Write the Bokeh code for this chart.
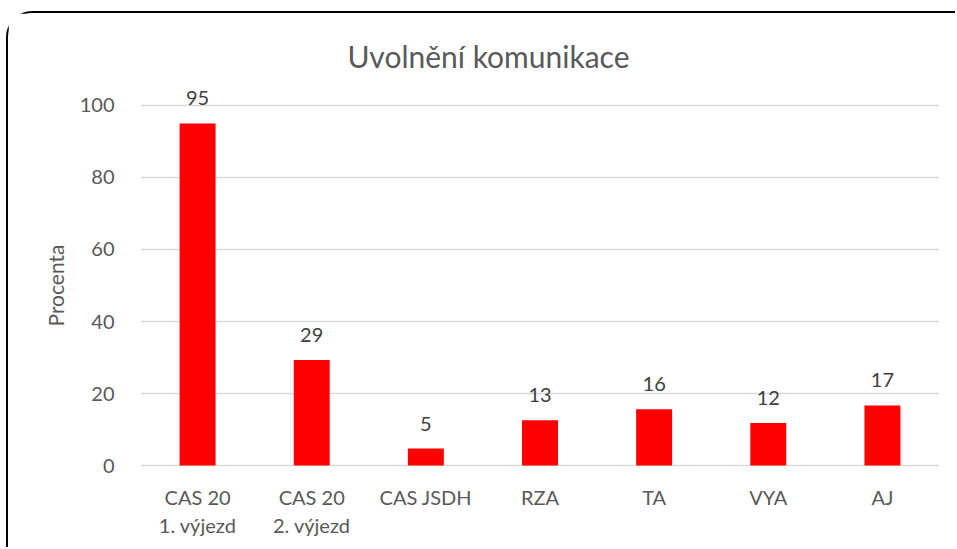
from bokeh.plotting import figure
from bokeh.models import Range1d, FactorRange, FixedTicker, ColumnDataSource
from bokeh.core.properties import value
from bokeh.embed import file_html
from bokeh.resources import INLINE

# ---- data ----
categories = ["CAS 20\n1. výjezd", "CAS 20\n2. výjezd", "CAS JSDH", "RZA", "TA", "VYA", "AJ"]
values = [95.0, 29.3, 4.7, 12.6, 15.6, 11.8, 16.7]
y_ticks = [0, 20, 40, 60, 80, 100]
title_text = "Uvolnění komunikace"
y_label = "Procenta"

labels = [f"{v:.0f}" for v in values]

FONT = "Lato"
src = ColumnDataSource(dict(cat=categories, val=values, lab=labels))

p = figure(
    x_range=FactorRange(*categories),
    y_range=Range1d(-4.72, 104.72),
    width=949, height=536,
    min_border_left=132, min_border_right=18, min_border_top=75, min_border_bottom=67,
    output_backend="svg", toolbar_location=None,
    title=title_text,
)
# rounded chart frame (top-left corner of the chart area)
p.styles = {"margin-left": "6px", "margin-top": "11px",
            "border-top": "2px solid #000", "border-left": "2px solid #000",
            "border-top-left-radius": "26px"}
p.outline_line_color = None
p.background_fill_color = "white"
p.border_fill_color = "white"

p.title.align = "left"
p.title.offset = 207
p.title.standoff = 29
p.title.text_font = FONT
p.title.text_font_size = "30px"
p.title.text_font_style = "normal"
p.title.text_color = "#595959"

p.vbar(x="cat", top="val", width=0.315, source=src, fill_color="#FF0000", line_color=None)

p.text(x="cat", y="val", text="lab", source=src, y_offset=-25,
       text_align="center", text_baseline="alphabetic",
       text_font=value(FONT), text_font_size="20px", text_color="#404040")

# grid
p.xgrid.grid_line_color = None
p.ygrid.grid_line_color = "#D9D9D9"
p.ygrid.grid_line_width = 1.5
p.ygrid.ticker = FixedTicker(ticks=y_ticks)

# y axis
ya = p.yaxis[0]
ya.ticker = FixedTicker(ticks=y_ticks)
ya.axis_line_color = None
ya.major_tick_line_color = None
ya.minor_tick_line_color = None
ya.major_label_standoff = 20
ya.major_label_text_font = FONT
ya.major_label_text_font_size = "20px"
ya.major_label_text_color = "#595959"
ya.axis_label = y_label
ya.axis_label_text_font = FONT
ya.axis_label_text_font_size = "21px"
ya.axis_label_text_font_style = "normal"
ya.axis_label_text_color = "#595959"
ya.axis_label_standoff = 9

# x axis
xa = p.xaxis[0]
xa.axis_line_color = None
xa.major_tick_line_color = None
xa.minor_tick_line_color = None
xa.major_label_standoff = -4
xa.major_label_text_font = FONT
xa.major_label_text_font_size = "20px"
xa.major_label_text_line_height = 1.2
xa.major_label_text_color = "#595959"
xa.major_label_orientation = "horizontal"

open("out.html", "w").write(file_html(p, INLINE))
